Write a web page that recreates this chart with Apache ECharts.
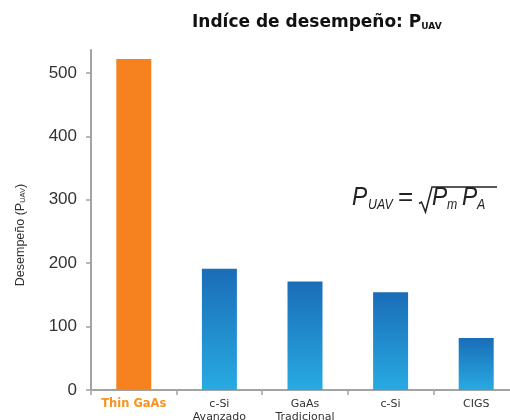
<!DOCTYPE html>
<html>
<head>
<meta charset="utf-8">
<script src="https://cdn.jsdelivr.net/npm/echarts@6/dist/echarts.min.js"></script>
<style>html,body{margin:0;padding:0;background:#fff}#c{width:510px;height:420px}</style>
</head>
<body>
<div id="c"></div>
<script>
const categories = ['Thin GaAs', 'c-Si\nAvanzado', 'GaAs\nTradicional', 'c-Si', 'CIGS'];
const values = [522, 191, 171, 154, 82];
const yTicks = [0, 100, 200, 300, 400, 500];

const chart = echarts.init(document.getElementById('c'), null, {renderer: 'canvas'});
const blue = new echarts.graphic.LinearGradient(0, 0, 0, 1, [
  {offset: 0, color: '#1a6db7'},
  {offset: 1, color: '#28aae2'}
]);
const ink = '#222';
function ft(txt, x, y, size, italic, sx) {
  return {
    type: 'text', x: x, y: y, scaleX: sx || 1,
    style: {
      text: txt, fill: ink, fontFamily: 'Liberation Sans',
      fontStyle: italic ? 'italic' : 'normal', fontSize: size,
      align: 'left', verticalAlign: 'middle'
    }
  };
}
const option = {
  animation: false,
  title: {
    text: '{a|Indíce de desempeño: P}{s|UAV}',
    left: 187, top: 4,
    textStyle: {
      rich: {
        a: {fontFamily: 'DejaVu Sans', fontWeight: 'bold', fontSize: 17, color: '#111', lineHeight: 22, verticalAlign: 'bottom'},
        s: {fontFamily: 'DejaVu Sans', fontWeight: 'bold', fontSize: 9, color: '#111', lineHeight: 13, verticalAlign: 'bottom'}
      }
    }
  },
  grid: {left: 91, top: 50, width: 428, bottom: 30, containLabel: false, outerBoundsMode: 'none'},
  xAxis: {
    type: 'category',
    data: categories,
    axisLine: {lineStyle: {color: '#a3a3a3', width: 2}},
    axisTick: {show: true, length: 5, lineStyle: {color: '#a3a3a3', width: 1.5}},
    axisLabel: {
      interval: 0,
      margin: 8,
      fontFamily: 'DejaVu Sans', fontSize: 11, color: '#333', lineHeight: 13,
      formatter: function (v, i) { return i === 0 ? '{o|' + v + '}' : v; },
      rich: {o: {fontFamily: 'DejaVu Sans', fontSize: 11.5, fontWeight: 'bold', color: '#f7931e'}}
    }
  },
  yAxis: {
    type: 'value',
    min: 0, max: 536, interval: 100,
    name: '{n|Desempeño (P}{s|UAV}{n|)}',
    nameLocation: 'middle',
    nameGap: 64,
    nameTextStyle: {
      padding: [0, 30, 0, 0],
      rich: {
        n: {fontFamily: 'Liberation Sans', fontSize: 12.5, color: '#333', lineHeight: 14, verticalAlign: 'bottom'},
        s: {fontFamily: 'Liberation Sans', fontSize: 7.5, color: '#333', lineHeight: 10, verticalAlign: 'bottom'}
      }
    },
    splitLine: {show: false},
    axisLine: {show: true, lineStyle: {color: '#a3a3a3', width: 2}},
    axisTick: {show: true, length: 5, customValues: yTicks, lineStyle: {color: '#a3a3a3', width: 1.5}},
    axisLabel: {customValues: yTicks, margin: 14, fontFamily: 'Liberation Sans', fontSize: 17, color: '#333'}
  },
  series: [{
    type: 'bar',
    barWidth: 35,
    data: values.map(function (v, i) {
      return {value: v, itemStyle: {color: i === 0 ? '#f5821f' : blue}};
    })
  }],
  graphic: [
    ft('P', 352, 198, 26, true, 0.88),
    ft('UAV', 368, 204.5, 15, true, 0.82),
    ft('=', 398, 198, 26, false, 1),
    {
      type: 'polyline',
      shape: {points: [[419, 203.5], [421.5, 202], [425.5, 212], [432, 187], [497, 187]]},
      style: {stroke: ink, lineWidth: 1.5, fill: null}
    },
    ft('P', 432, 198, 26, true, 0.88),
    ft('m', 447, 204.5, 15, true, 0.82),
    ft('P', 462, 198, 26, true, 0.88),
    ft('A', 477, 204.5, 15, true, 0.82)
  ]
};
chart.setOption(option);
</script>
</body>
</html>
